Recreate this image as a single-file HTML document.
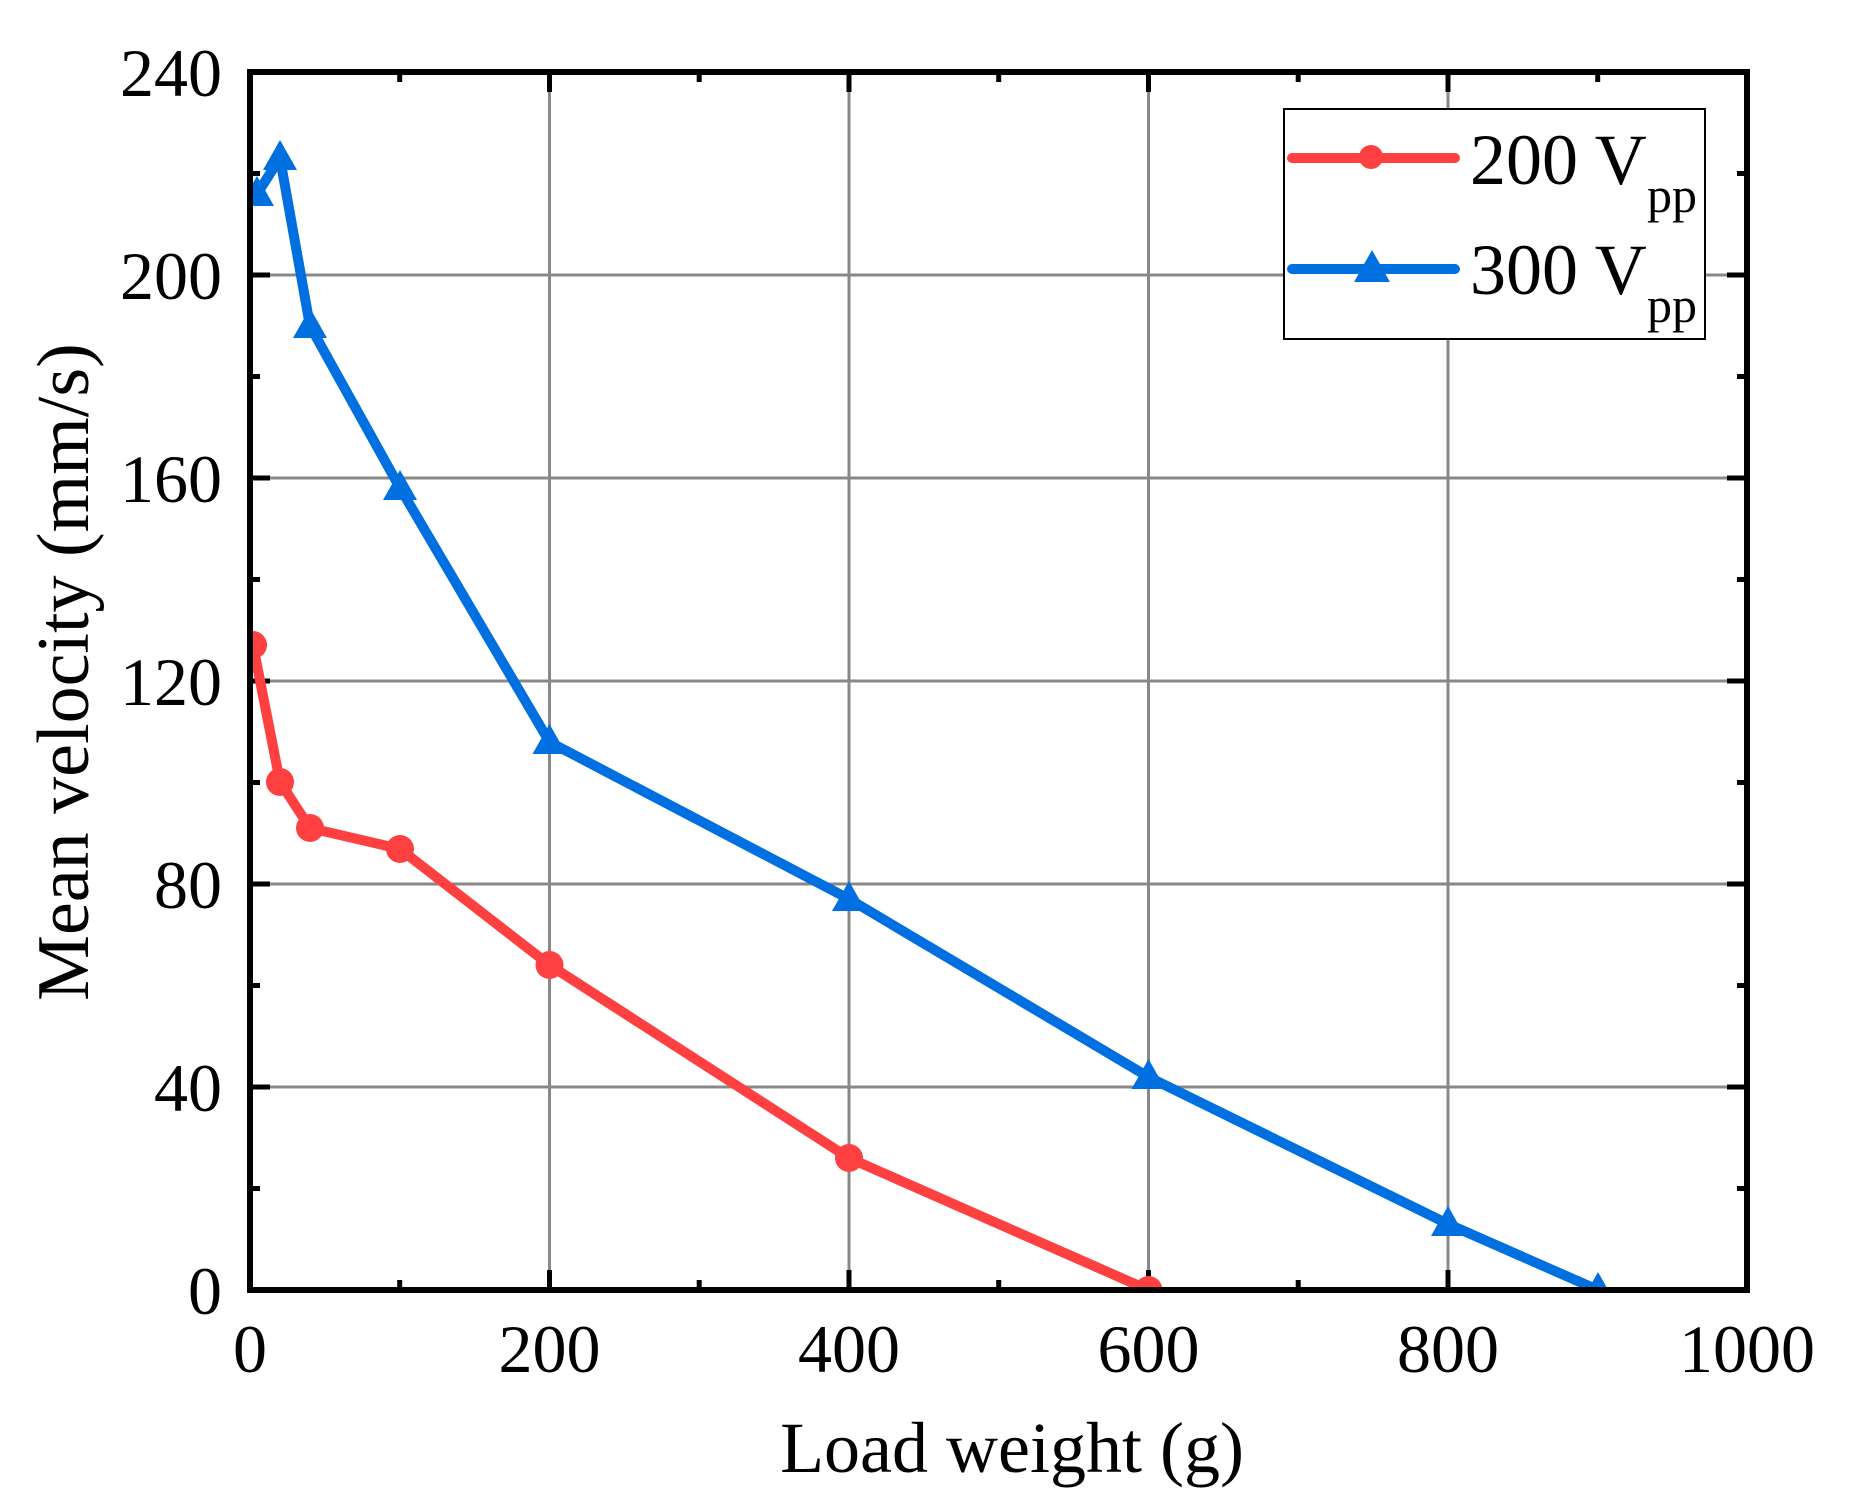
<!DOCTYPE html>
<html><head><meta charset="utf-8"><style>
html,body{margin:0;padding:0;background:#fff;}
svg{display:block;}
text{font-family:"Liberation Serif",serif;fill:#000;}
</style></head><body>
<svg width="1852" height="1508" viewBox="0 0 1852 1508" xmlns="http://www.w3.org/2000/svg">
<g stroke="#888" stroke-width="3">
<line x1="549.5" y1="72" x2="549.5" y2="1290"/>
<line x1="849" y1="72" x2="849" y2="1290"/>
<line x1="1148.5" y1="72" x2="1148.5" y2="1290"/>
<line x1="1448" y1="72" x2="1448" y2="1290"/>
<line x1="250" y1="1087" x2="1747" y2="1087"/>
<line x1="250" y1="884" x2="1747" y2="884"/>
<line x1="250" y1="681" x2="1747" y2="681"/>
<line x1="250" y1="478" x2="1747" y2="478"/>
<line x1="250" y1="275" x2="1747" y2="275"/>
</g>
<g stroke="#000" stroke-width="5">
<path d="M549.5 1290v-20M849 1290v-20M1148.5 1290v-20M1448 1290v-20M549.5 72v20M849 72v20M1148.5 72v20M1448 72v20"/>
<path d="M399.7 1290v-10M699.2 1290v-10M998.7 1290v-10M1298.2 1290v-10M1597.7 1290v-10M399.7 72v10M699.2 72v10M998.7 72v10M1298.2 72v10M1597.7 72v10"/>
<path d="M250 1087h20M250 884h20M250 681h20M250 478h20M250 275h20M1747 1087h-20M1747 884h-20M1747 681h-20M1747 478h-20M1747 275h-20"/>
<path d="M250 1188.5h10M250 985.5h10M250 782.5h10M250 579.5h10M250 376.5h10M250 173.5h10M1747 1188.5h-10M1747 985.5h-10M1747 782.5h-10M1747 579.5h-10M1747 376.5h-10M1747 173.5h-10"/>
</g>
<svg x="250" y="72" width="1497" height="1218" overflow="hidden">
<g transform="translate(-250,-72)">
<polyline fill="none" stroke="#ff4040" stroke-width="10" stroke-linejoin="round" points="253,645 280,782 310,828 400,849 549.5,965 849,1158 1148.5,1290"/>
<g fill="#ff4040">
<circle cx="253" cy="645" r="14"/><circle cx="280" cy="782" r="14"/><circle cx="310" cy="828" r="14"/><circle cx="400" cy="849" r="14"/><circle cx="549.5" cy="965" r="14"/><circle cx="849" cy="1158" r="14"/><circle cx="1148.5" cy="1290" r="14"/>
</g>
<polyline fill="none" stroke="#0070e0" stroke-width="10" stroke-linejoin="round" points="257,194 280,158 310,326 400,488 549.5,742 849,899 1148.5,1077 1448,1224 1598,1290"/>
<g fill="#0070e0">
<path d="M257 176l17 30h-34z"/><path d="M280 140l17 30h-34z"/><path d="M310 308l17 30h-34z"/><path d="M400 470l17 30h-34z"/><path d="M549.5 724l17 30h-34z"/><path d="M849 881l17 30h-34z"/><path d="M1148.5 1059l17 30h-34z"/><path d="M1448 1206l17 30h-34z"/><path d="M1598 1272l17 30h-34z"/>
</g>
</g>
</svg>
<rect x="250" y="72" width="1497" height="1218" fill="none" stroke="#000" stroke-width="6"/>
<rect x="1284" y="109" width="421" height="230" fill="#fff" stroke="#000" stroke-width="2"/>
<line x1="1292" y1="158" x2="1455" y2="158" stroke="#ff4040" stroke-width="10" stroke-linecap="round"/>
<circle cx="1371" cy="157" r="12" fill="#ff4040"/>
<line x1="1292" y1="269" x2="1455" y2="269" stroke="#0070e0" stroke-width="10" stroke-linecap="round"/>
<path d="M1372 250l18 32h-36z" fill="#0070e0"/>
<text x="1470" y="184" font-size="72">200 V</text>
<text x="1647" y="212" font-size="50">pp</text>
<text x="1470" y="294" font-size="72">300 V</text>
<text x="1647" y="322" font-size="50">pp</text>
<g font-size="68" text-anchor="end">
<text x="222" y="1314">0</text>
<text x="222" y="1111">40</text>
<text x="222" y="908">80</text>
<text x="222" y="705">120</text>
<text x="222" y="502">160</text>
<text x="222" y="299">200</text>
<text x="222" y="96">240</text>
</g>
<g font-size="68" text-anchor="middle">
<text x="250" y="1372">0</text>
<text x="549.5" y="1372">200</text>
<text x="849" y="1372">400</text>
<text x="1148.5" y="1372">600</text>
<text x="1448" y="1372">800</text>
<text x="1747" y="1372">1000</text>
</g>
<text x="1012" y="1472" font-size="72" text-anchor="middle">Load weight (g)</text>
<text transform="translate(88,672) rotate(-90)" font-size="74" text-anchor="middle">Mean velocity (mm/s)</text>
</svg>
</body></html>
